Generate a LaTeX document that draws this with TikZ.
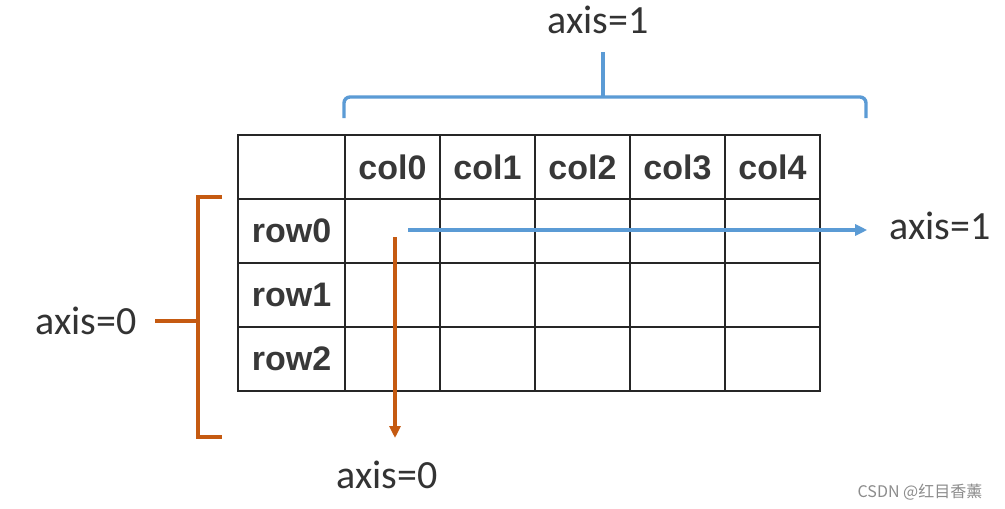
\documentclass[tikz,border=0pt]{standalone}
\usepackage{fontspec}
\setmainfont{Carlito}
\newfontfamily\cellfont{Liberation Sans}
\newfontfamily\cjkfont{Noto Sans CJK SC}
\usepackage{tikz}
\usetikzlibrary{positioning,arrows.meta}

\definecolor{axisblue}{RGB}{91,155,213}
\definecolor{axisorange}{RGB}{197,90,17}

\begin{document}
\begin{tikzpicture}[x=1pt,y=-1pt,
  cell/.style={draw=black!85,line width=2.2pt,minimum width=95pt,minimum height=64pt,
    inner sep=0pt,font=\cellfont\bfseries\fontsize{34}{36}\selectfont,text=black!78},
  axislabel/.style={font=\fontsize{40}{44}\selectfont,text=black!80,inner sep=2pt},
  bluearrow/.style={-{Triangle[length=12pt,width=11pt]},draw=axisblue,line width=3.4pt},
  orangearrow/.style={-{Triangle[length=12pt,width=11pt]},draw=axisorange,line width=3.4pt},
  bluebrace/.style={draw=axisblue,line width=3.4pt,rounded corners=6pt},
  orangebrace/.style={draw=axisorange,line width=3.4pt}]
\useasboundingbox[fill=white] (0,0) rectangle (1005,509);
% table
\node[cell,minimum width=107pt] (corner) at (291.5,167) {};
\foreach \c in {0,...,4}
  \node[cell] (col\c) at ({392.5+95*\c},167) {col\c};
\foreach \r in {0,1,2} {
  \node[cell,minimum width=107pt] (row\r) at (291.5,{231+64*\r}) {row\r};
  \foreach \c in {0,...,4}
    \node[cell] (r\r c\c) at ({392.5+95*\c},{231+64*\r}) {};
}
% labels
\node[axislabel] (axistop) at (598,20) {axis=1};
\node[axislabel] (axisright) at (940,226) {axis=1};
\node[axislabel] (axisleft) at (86,321) {axis=0};
\node[axislabel] (axisbottom) at (387,475) {axis=0};
% arrows
\coordinate (bluestart) at (408,230);
\coordinate (orangestart) at (395,237);
\draw[bluearrow] (bluestart) -- ([xshift=-20pt]axisright.west |- bluestart);
\draw[orangearrow] (orangestart) -- (orangestart |- 0,438);
% braces
\draw[bluebrace] (344,118) |- (603,97) -| (866,118);
\draw[draw=axisblue,line width=3.4pt] (603,97) -- (603,52);
\draw[orangebrace] (222,197) -- (198,197) -- (198,437) -- (222,437);
\draw[orangebrace] (198,321) -- (155,321);
% watermark
\node[font=\cjkfont\fontsize{16}{18}\selectfont,text=black!45] (mark) at (920,492) {CSDN @红目香薰};
\end{tikzpicture}
\end{document}
